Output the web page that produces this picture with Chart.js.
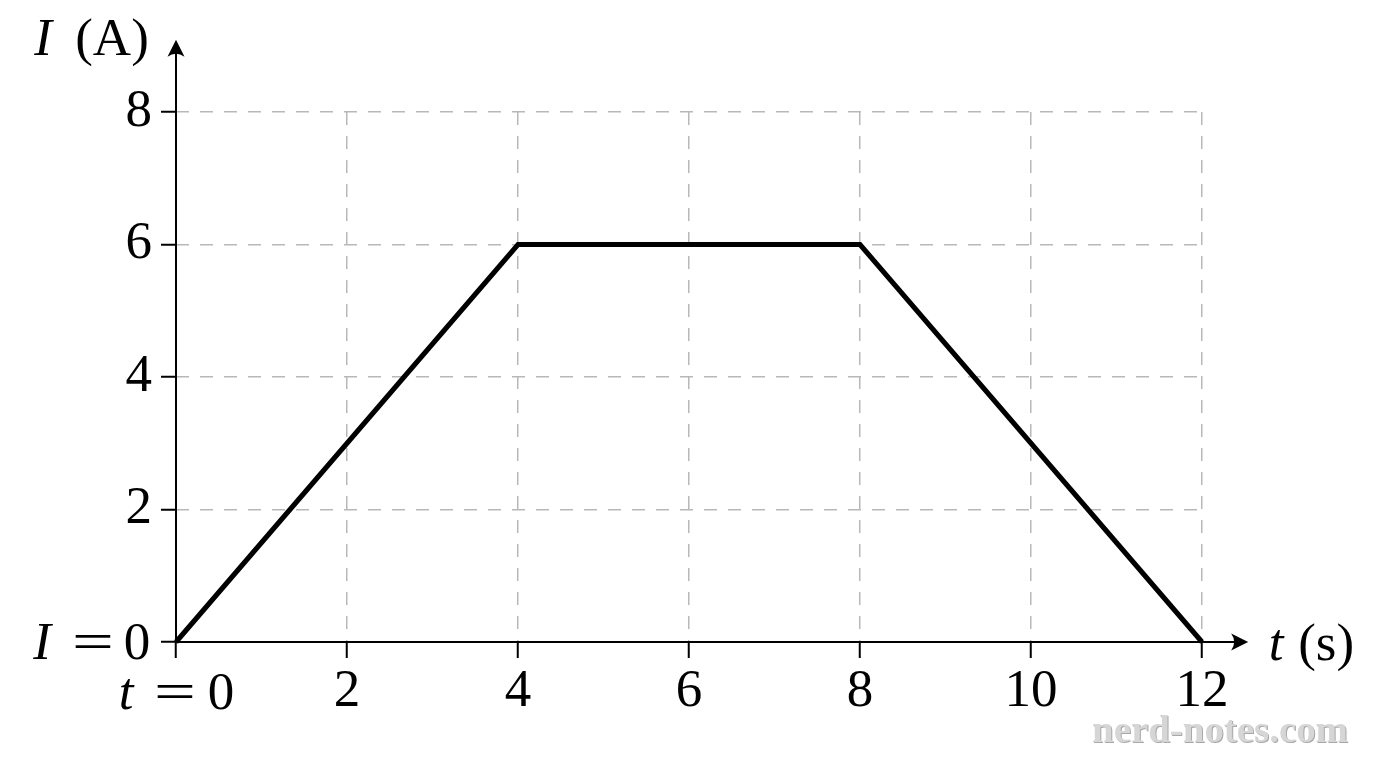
<!DOCTYPE html>
<html><head><meta charset="utf-8">
<script src="https://cdn.jsdelivr.net/npm/chart.js@4.4.0/dist/chart.umd.min.js"></script>
<style>html,body{margin:0;padding:0;background:#fff;}#wrap{width:1376px;height:768px;}</style>
</head><body><div id="wrap"><canvas id="c" width="1376" height="768"></canvas></div>
<script>
// ---- data ----
const times = [0, 4, 8, 12];
const currents = [0, 6, 6, 0];
const xTickValues = [0, 2, 4, 6, 8, 10, 12];
const yTickValues = [0, 2, 4, 6, 8];
const xAxisTitle = ['t', '(s)'];
const yAxisTitle = ['I', '(A)'];
const xZeroLabel = ['t', '=', '0'];
const yZeroLabel = ['I', '=', '0'];
const watermarkText = 'nerd-notes.com';

// ---- style ----
const FONT = 'Liberation Serif';
const FS = 53;
const axisEnd = { x: 12.54, y: 9.09 };

function arrowHead(ctx, tx, ty, dir) {
  ctx.save();
  ctx.translate(tx, ty);
  if (dir === 'up') ctx.rotate(-Math.PI / 2);
  ctx.beginPath();
  ctx.moveTo(0, 0);
  ctx.lineTo(-17, -8.5);
  ctx.quadraticCurveTo(-11, 0, -17, 8.5);
  ctx.closePath();
  ctx.fillStyle = '#000';
  ctx.fill();
  ctx.restore();
}

function txt(ctx, s, cx, base, italic, sx) {
  ctx.save();
  ctx.font = (italic ? 'italic ' : '') + FS + 'px "' + FONT + '"';
  ctx.textAlign = 'center';
  ctx.textBaseline = 'alphabetic';
  ctx.fillStyle = '#000';
  ctx.translate(cx, base);
  if (sx) ctx.scale(sx, 1);
  ctx.fillText(s, 0, 0);
  ctx.restore();
}

const deco = {
  id: 'deco',
  beforeDatasetsDraw(chart) {
    const { ctx, scales: { x, y } } = chart;
    const x0 = x.getPixelForValue(0), y0 = y.getPixelForValue(0);
    const xEnd = x.getPixelForValue(axisEnd.x), yEnd = y.getPixelForValue(axisEnd.y);
    ctx.save();
    ctx.strokeStyle = '#000';
    ctx.lineWidth = 2;
    ctx.beginPath();
    ctx.moveTo(x0, y0 + 1); ctx.lineTo(x0, yEnd + 6);
    ctx.moveTo(x0 - 1, y0); ctx.lineTo(xEnd - 6, y0);
    ctx.stroke();
    arrowHead(ctx, x0, yEnd, 'up');
    arrowHead(ctx, xEnd, y0, 'right');
    ctx.restore();
  },
  afterDraw(chart) {
    const { ctx, scales: { x, y } } = chart;
    const x0 = x.getPixelForValue(0), y0 = y.getPixelForValue(0);
    const xEnd = x.getPixelForValue(axisEnd.x), yEnd = y.getPixelForValue(axisEnd.y);
    ctx.save();
    // y zero label  "I = 0"
    const yb = y0 + 17;
    txt(ctx, yZeroLabel[0], x0 - 134, yb, true);
    txt(ctx, yZeroLabel[1], x0 - 83, yb, false, 1.4);
    txt(ctx, yZeroLabel[2], x0 - 39, yb, false);
    // x zero label "t = 0"
    const xb = y0 + 67;
    txt(ctx, xZeroLabel[0], x0 - 50, xb, true);
    txt(ctx, xZeroLabel[1], x0 - 1, xb, false, 1.4);
    txt(ctx, xZeroLabel[2], x0 + 45, xb, false);
    // axis titles
    txt(ctx, yAxisTitle[0], x0 - 133, yEnd + 15, true);
    txt(ctx, yAxisTitle[1], x0 - 64, yEnd + 15, false);
    txt(ctx, xAxisTitle[0], xEnd + 28, y0 + 18, true);
    txt(ctx, xAxisTitle[1], xEnd + 78, y0 + 18, false);
    // watermark
    let wfs = 34;
    ctx.font = 'bold ' + wfs + 'px "' + FONT + '"';
    const w = ctx.measureText(watermarkText).width;
    wfs = wfs * 256 / w;
    ctx.font = 'bold ' + wfs.toFixed(1) + 'px "' + FONT + '"';
    ctx.textAlign = 'right';
    ctx.textBaseline = 'alphabetic';
    ctx.fillStyle = '#a8a8a8';
    ctx.fillText(watermarkText, chart.width - 27, 743);
    ctx.fillStyle = '#d6d6d6';
    ctx.fillText(watermarkText, chart.width - 28, 742);
    ctx.restore();
  }
};

new Chart(document.getElementById('c'), {
  type: 'line',
  data: {
    datasets: [{
      data: times.map((t, i) => ({ x: t, y: currents[i] })),
      borderColor: '#000',
      borderWidth: 5,
      pointRadius: 0,
      tension: 0,
      fill: false,
      clip: false
    }]
  },
  options: {
    responsive: false,
    animation: false,
    devicePixelRatio: 1,
    layout: { padding: { top: 112, right: 174, left: 0, bottom: 0 } },
    plugins: { legend: { display: false }, tooltip: { enabled: false } },
    scales: {
      x: {
        type: 'linear', min: 0, max: 12,
        afterBuildTicks: s => { s.ticks = xTickValues.map(v => ({ value: v })); },
        afterFit: s => { s.height = 126; },
        ticks: {
          callback: v => v === 0 ? '' : String(v),
          font: { family: FONT, size: FS }, color: '#000',
          padding: 2, maxRotation: 0, autoSkip: false
        },
        grid: {
          color: c => (c.tick && c.tick.value === 0) ? 'rgba(0,0,0,0)' : '#b8b8b8',
          lineWidth: 1.5, tickColor: '#000', tickWidth: 2, tickLength: 16, tickBorderDash: []
        },
        border: { display: false, dash: [13, 11] }
      },
      y: {
        type: 'linear', min: 0, max: 8,
        afterBuildTicks: s => { s.ticks = yTickValues.map(v => ({ value: v })); },
        afterFit: s => { s.width = 176; },
        ticks: {
          callback: v => v === 0 ? '' : String(v),
          font: { family: FONT, size: FS }, color: '#000',
          padding: 9
        },
        grid: {
          color: c => (c.tick && c.tick.value === 0) ? 'rgba(0,0,0,0)' : '#b8b8b8',
          lineWidth: 1.5, tickColor: '#000', tickWidth: 2, tickLength: 15, tickBorderDash: []
        },
        border: { display: false, dash: [13, 11] }
      }
    }
  },
  plugins: [deco]
});
</script>
</body></html>
